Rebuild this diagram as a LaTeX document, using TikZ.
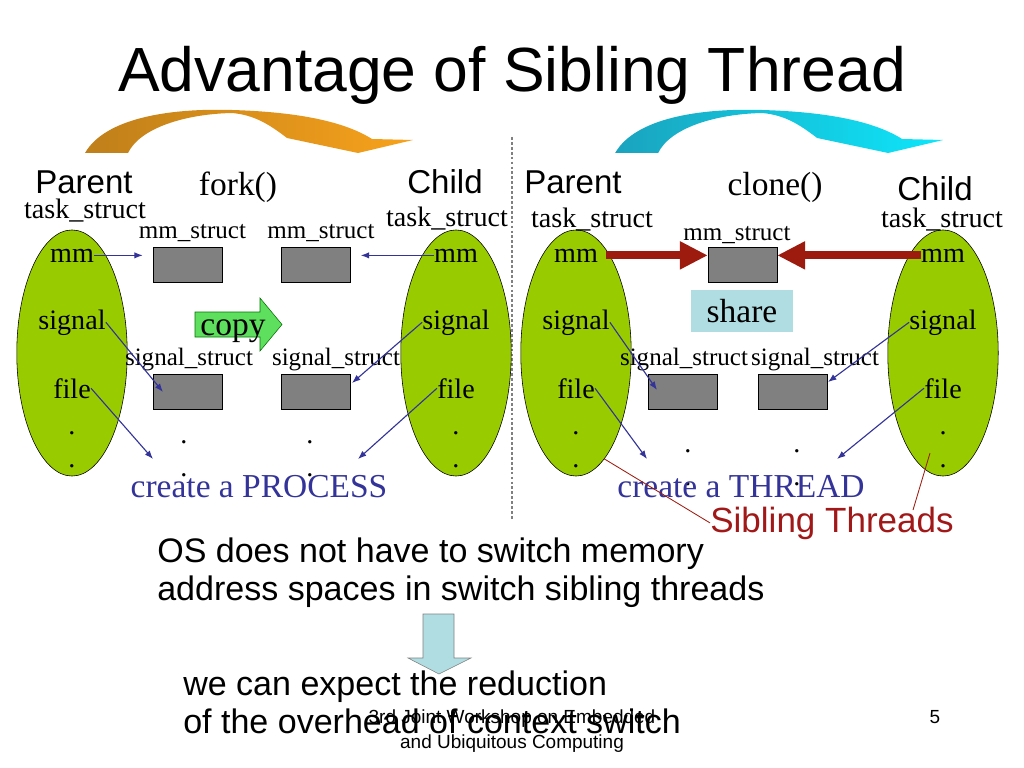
\documentclass[tikz,border=0pt]{standalone}
\usepackage{fontspec}
\setmainfont{Liberation Serif}
\setsansfont{Liberation Sans}
\usepackage{tikz}
\usetikzlibrary{shapes.geometric,calc,positioning,arrows.meta}
\definecolor{leaf}{HTML}{99CC00}
\definecolor{ink}{HTML}{333399}
\definecolor{brick}{HTML}{9C1B0E}
\definecolor{sibred}{HTML}{A01818}
\definecolor{paleteal}{HTML}{B0DDE2}
\definecolor{mint}{HTML}{5EE05E}
\definecolor{ambdark}{HTML}{BF7F1A}
\definecolor{amblight}{HTML}{F7A21B}
\definecolor{cyandark}{HTML}{1AA3BE}
\definecolor{cyanlight}{HTML}{0EE6FA}

\begin{document}
\begin{tikzpicture}[x=0.025cm,y=-0.025cm,
  blob/.style={ellipse,draw,fill=leaf,minimum width=2.76cm,minimum height=6.15cm,inner sep=0pt},
  slab/.style={rectangle,draw,fill=gray,minimum width=1.72cm,minimum height=0.87cm,inner sep=0pt},
  field/.style={anchor=base,inner sep=0pt,font=\fontsize{20}{22}\selectfont},
  sname/.style={anchor=base,inner sep=0pt,font=\fontsize{17.8}{20}\selectfont},
  call/.style={anchor=base,inner sep=0pt,font=\fontsize{23.8}{26}\selectfont},
  role/.style={anchor=base,inner sep=0pt,font=\sffamily\fontsize{23.5}{26}\selectfont},
  say/.style={anchor=base west,inner sep=0pt,font=\sffamily\fontsize{24.2}{28}\selectfont},
  small/.style={anchor=base,inner sep=0pt,font=\sffamily\fontsize{13.5}{15}\selectfont},
  ptr/.style={draw=ink,line width=0.8pt,-{Latex[length=6pt,width=4.5pt]}},
  fat/.style={draw=brick,line width=0.2cm,-{Triangle[length=0.7cm,width=0.66cm]}},
  tie/.style={draw=brick,line width=0.6pt}]
\useasboundingbox (0,0) rectangle (1024,768);

\node (title) [anchor=base,inner sep=0pt,font=\sffamily\fontsize{44.4}{50}\selectfont] at (512,92) {Advantage of Sibling Thread};

\foreach \dx/\ca/\cb in {0/ambdark/amblight,13.25/cyandark/cyanlight}
  \shade[xshift=\dx cm,left color=\ca,right color=\cb] (85,153) .. controls (105,118) and (170,108) .. (232,110) .. controls (300,112) and (345,122) .. (372,139) -- (413,140) -- (358,153) -- (287,138) .. controls (270,125) and (255,115) .. (232,113) .. controls (185,114) and (140,128) .. (128,153) -- cycle;

\draw[gray,line width=0.8pt,dash pattern=on 2pt off 1.5pt] (512,137) -- (512,520);

\node (parentA) [blob] at (72,353) {};
\node (childA) [blob] at (456,353) {};
\node (parentB) [blob] at (576,353) {};
\node (childB) [blob] at (943,353) {};

\foreach \e/\x in {pA/72,cA/456,pB/576,cB/943} {
  \node (\e mm) [field] at (\x,262) {mm};
  \node (\e sig) [field] at (\x,329) {signal};
  \node (\e file) [field] at (\x,398) {file};
  \node (\e dotA) [field] at (\x,434) {.};
  \node (\e dotB) [field] at (\x,467) {.};
}

\node (parentAlbl) [role] at (84,193) {Parent};
\node (childAlbl) [role] at (445,193) {Child};
\node (parentBlbl) [role] at (573,193) {Parent};
\node (childBlbl) [role] at (935,200) {Child};
\node (fork) [call] at (238,195) {fork()};
\node (clone) [call] at (775,195) {clone()};
\node (taskpA) [field] at (85,218) {task\_struct};
\node (taskcA) [field] at (447,226) {task\_struct};
\node (taskpB) [field] at (592,227) {task\_struct};
\node (taskcB) [field] at (942,227) {task\_struct};

\node (mmA1) [slab] at (187.5,264.5) {};
\node (mmA2) [slab] at (316,264.5) {};
\node (mmB) [slab] at (742.5,264.5) {};
\node (sigA1) [slab] at (187.5,392) {};
\node (sigA2) [slab] at (316,392) {};
\node (sigB1) [slab] at (682.5,392) {};
\node (sigB2) [slab] at (793,392) {};

\node (mmlblA1) [sname] at (192.5,238) {mm\_struct};
\node (mmlblA2) [sname] at (321,238) {mm\_struct};
\node (mmlblB) [sname] at (737,240) {mm\_struct};
\node (siglblA1) [sname] at (189,365) {signal\_struct};
\node (siglblA2) [sname] at (336,365) {signal\_struct};
\node (siglblB1) [sname] at (684,365) {signal\_struct};
\node (siglblB2) [sname] at (815,365) {signal\_struct};

\draw[fill=mint,draw=green!45!black] (195,312) -- (260,312) -- (260,298) -- (282,324.5) -- (260,351) -- (260,337) -- (195,337) -- cycle;
\node (copy) [call] at (233,335) {copy};
\node (share) [fill=paleteal,minimum width=2.55cm,minimum height=1.05cm,inner sep=0pt,font=\fontsize{23.8}{26}\selectfont] at (742,311) {share};

\foreach \x in {184,310} {
  \node [field] at (\x,443) {.};
  \node [field] at (\x,476) {.};
}
\foreach \x in {688,797} {
  \node [field] at (\x,452) {.};
  \node [field] at (\x,485) {.};
}
\node (procA) [call,text=ink] at (259,497) {create a PROCESS};
\node (thrB) [call,text=ink] at (741,497) {create a THREAD};

\coordinate (sigtipA1) at (163,392);
\coordinate (sigtipA2) at (352,383);
\coordinate (filetipA1) at (153,459);
\coordinate (filetipA2) at (358,459);
\coordinate (sigtipB1) at (657,390);
\coordinate (sigtipB2) at (828,382);
\coordinate (filetipB1) at (647,459);
\coordinate (filetipB2) at (837,459);
\draw[ptr,shorten >=0.25cm] (pAmm.east) -- (pAmm.east -| mmA1.west);
\draw[ptr,shorten >=0.25cm] (cAmm.west) -- (cAmm.west -| mmA2.east);
\draw[ptr] (pAsig.east) -- (sigtipA1);
\draw[ptr] (cAsig.west) -- (sigtipA2);
\draw[ptr] (pAfile.east) -- (filetipA1);
\draw[ptr] (cAfile.west) -- (filetipA2);
\draw[ptr] (pBsig.east) -- (sigtipB1);
\draw[ptr] (cBsig.west) -- (sigtipB2);
\draw[ptr] (pBfile.east) -- (filetipB1);
\draw[ptr] (cBfile.west) -- (filetipB2);

\draw[fat,shorten <=0.2cm] (pBmm.east) -- (pBmm.east -| mmB.west);
\draw[fat] (cBmm.west) -- (cBmm.west -| mmB.east);

\node (sib) [anchor=base,inner sep=0pt,text=sibred,font=\sffamily\fontsize{24.9}{28}\selectfont] at (832,532) {Sibling Threads};
\coordinate (sibfoot) at (913,510);
\coordinate (sibroot) at (930,453);
\draw[tie] (sib.west) -- (parentB.-75);
\draw[tie] (sibfoot) -- (sibroot);

\node (os1) [say] at (157,562) {OS does not have to switch memory};
\node (os2) [say] at (157,600) {address spaces in switch sibling threads};
\draw[fill=paleteal,draw=gray] (423,614) -- (454,614) -- (454,658) -- (471,658) -- (439,674) -- (408,658) -- (423,658) -- cycle;
\node (gain1) [say] at (183,695) {we can expect the reduction};
\node (gain2) [say] at (183,733) {of the overhead of context switch};

\node (foot1) [small] at (512,723) {3rd Joint Workshop on Embedded};
\node (foot2) [small] at (512,748) {and Ubiquitous Computing};
\node (page) [small] at (935,723) {5};
\end{tikzpicture}
\end{document}
